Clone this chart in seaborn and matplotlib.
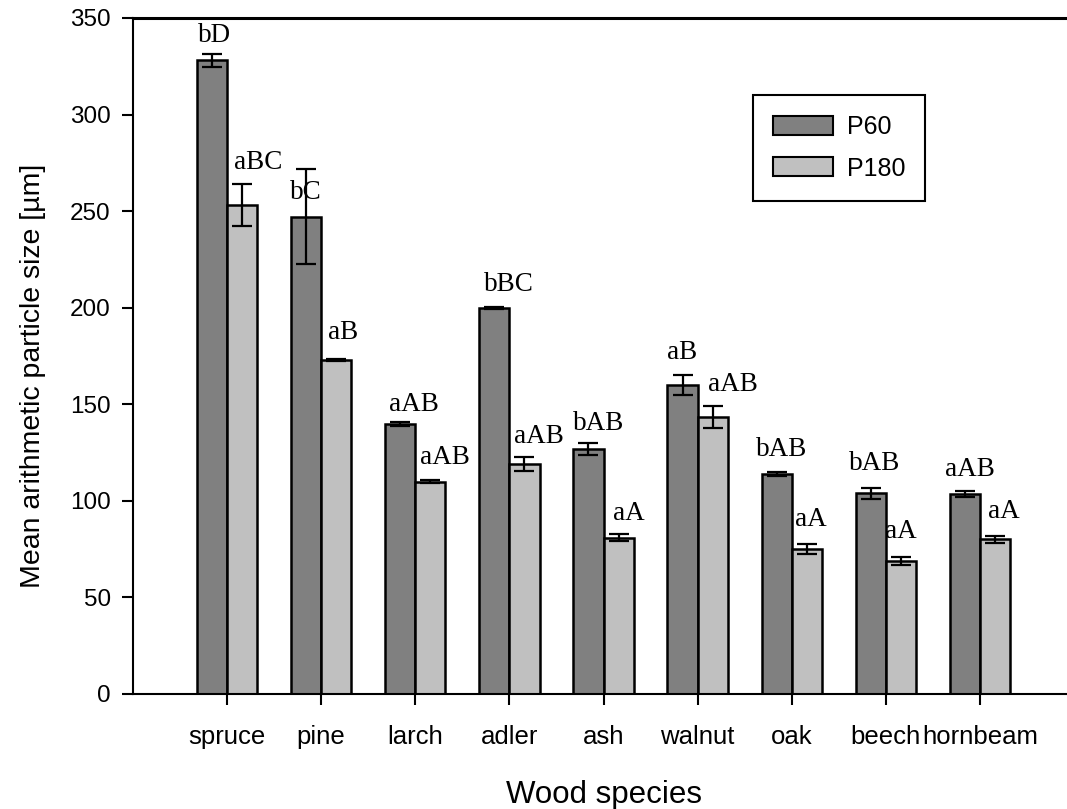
import matplotlib
matplotlib.use("Agg")
import matplotlib.pyplot as plt
import seaborn as sns
import pandas as pd
import numpy as np
from matplotlib.patches import Patch

species = ["spruce", "pine", "larch", "adler", "ash", "walnut", "oak", "beech", "hornbeam"]
p60_mean = [328, 247, 140, 200, 127, 160, 114, 104, 103.5]
p60_err = [3.5, 24.6, 1.0, 0.6, 3.0, 5.2, 1.0, 2.8, 1.5]
p180_mean = [253, 173, 110, 119, 81, 143.5, 75, 69, 80]
p180_err = [10.8, 0.6, 0.6, 3.5, 2.0, 5.6, 2.5, 2.0, 1.6]
p60_letters = ["bD", "bC", "aAB", "bBC", "bAB", "aB", "bAB", "bAB", "aAB"]
p180_letters = ["aBC", "aB", "aAB", "aAB", "aA", "aAB", "aA", "aA", "aA"]
# annotation anchor positions (data units)
p60_label_y = [340.7, 259.4, 149.7, 211.8, 139.8, 176.6, 126.4, 119.6, 116.0]
p180_label_y = [275.0, 187.0, 122.2, 133.1, 93.2, 160.0, 90.6, 83.9, 94.3]
p60_label_dx = [2, 0, 14, 15, 10, 0, 5, 4, 5]
p180_label_dx = [16, 7, 15, 14, 10, 20, 4, 0, 9]
series = ["P60", "P180"]

df = pd.DataFrame({
    "species": species * 2,
    "size": p60_mean + p180_mean,
    "paper": [series[0]] * len(species) + [series[1]] * len(species),
})

sns.set_style("white")
plt.rcParams["font.family"] = ["Liberation Sans", "DejaVu Sans"]
for k in ["text.color", "axes.labelcolor", "xtick.color", "ytick.color",
          "xtick.labelcolor", "ytick.labelcolor"]:
    plt.rcParams[k] = "black"

W, H = 1067, 809
fig = plt.figure(figsize=(W / 100, H / 100), dpi=100)
ax = fig.add_axes([133 / W, 1 - 694 / H, (1074 - 133) / W, (694 - 18) / H])

dark = "#808080"
light = "#c0c0c0"
sns.barplot(data=df, x="species", y="size", hue="paper", palette=[dark, light],
            edgecolor="black", linewidth=1.8, width=0.64, errorbar=None,
            legend=False, ax=ax, saturation=1)

x = np.arange(len(species))
half = 0.16
ax.errorbar(x - half, p60_mean, yerr=p60_err, fmt="none", ecolor="black",
            elinewidth=1.6, capsize=7.5, capthick=1.6, zorder=5)
ax.errorbar(x + half, p180_mean, yerr=p180_err, fmt="none", ecolor="black",
            elinewidth=1.6, capsize=7.5, capthick=1.6, zorder=5)

pxu = 94.0
serif = ["Liberation Serif", "DejaVu Serif"]
for i in range(len(species)):
    ax.text(x[i] - half + p60_label_dx[i] / pxu, p60_label_y[i], p60_letters[i],
            ha="center", va="center", fontsize=19.5, family=serif, zorder=6)
    ax.text(x[i] + half + p180_label_dx[i] / pxu, p180_label_y[i], p180_letters[i],
            ha="center", va="center", fontsize=19.5, family=serif, zorder=6)

ax.set_xlim(-1, 9)
ax.set_ylim(0, 350)
ax.set_yticks(range(0, 351, 50))
ax.tick_params(axis="y", direction="out", length=8, width=1.5, labelsize=17.5, pad=8, left=True,
               colors="black")
ax.tick_params(axis="x", direction="out", length=8, width=1.5, labelsize=18.5, pad=14, bottom=True,
               colors="black")

for s in ["left", "bottom", "top"]:
    ax.spines[s].set_visible(True)
    ax.spines[s].set_color("black")
ax.spines["left"].set_linewidth(1.5)
ax.spines["bottom"].set_linewidth(1.5)
ax.spines["top"].set_linewidth(2.2)
ax.spines["right"].set_visible(False)

ax.set_xlabel("Wood species", fontsize=22.5, color="black")
ax.set_ylabel("Mean arithmetic particle size [µm]", fontsize=20.5, color="black")
ax.xaxis.set_label_coords(0.5, (694 - 780) / 676)
ax.yaxis.set_label_coords((46 - 133) / 941, (694 - 376) / 676)

handles = [Patch(facecolor=dark, edgecolor="black", linewidth=1.5),
           Patch(facecolor=light, edgecolor="black", linewidth=1.5)]
leg = ax.legend(handles, series, loc="upper left", bbox_to_anchor=((753 - 133) / 941, (694 - 95) / 676),
                borderaxespad=0, fontsize=18, frameon=True, fancybox=False,
                edgecolor="black", framealpha=1, handlelength=2.4, handleheight=0.78,
                handletextpad=0.55, labelspacing=0.7, borderpad=0.8)
leg.get_frame().set_linewidth(1.5)
for t in leg.get_texts():
    t.set_color("black")

fig.savefig("out.png", dpi=100)
